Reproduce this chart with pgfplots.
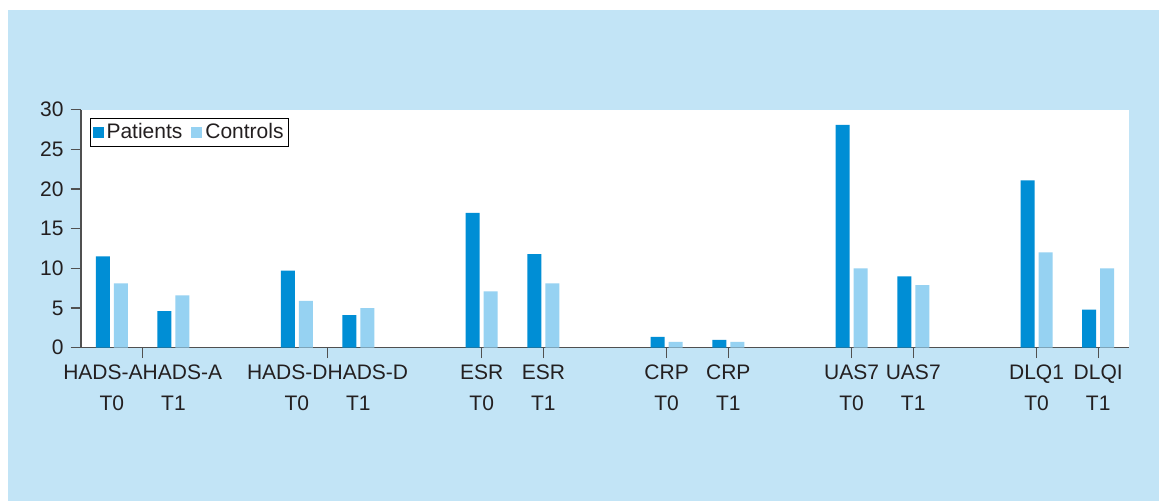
\documentclass[border=0pt]{standalone}
\usepackage{pgfplots}
\pgfplotsset{compat=1.18}
\usepackage{fontspec}
\setmainfont{Liberation Sans}
\definecolor{bgblue}{RGB}{194,228,246}
\definecolor{patc}{RGB}{0,142,213}
\definecolor{conc}{RGB}{150,210,242}
\definecolor{axc}{RGB}{80,80,80}
\definecolor{txt}{RGB}{35,31,32}
\newcommand{\Lf}[1]{\makebox[0pt]{\makebox[30.8pt][r]{#1}}}
\newcommand{\Rt}[1]{\makebox[0pt]{\makebox[30.8pt][l]{#1}}}
\begin{document}
\begin{tikzpicture}
\useasboundingbox (0,0) rectangle (579.5pt,250.5pt);
\fill[white] (0,0) rectangle (579.5pt,250.5pt);
\fill[bgblue] (4pt,0) rectangle (579.5pt,245.5pt);
\begin{axis}[
  at={(40.5pt,76.65pt)}, anchor=south west,
  scale only axis, width=524pt, height=119pt,
  xmin=-0.5, xmax=16.5, ymin=0, ymax=30,
  axis background/.style={fill=white},
  axis x line*=bottom, axis y line*=left,
  axis line style={draw=axc, line width=0.65pt},
  tick align=outside, major tick length=5.2pt,
  tick style={draw=axc, line width=0.65pt},
  ytick={0,5,10,15,20,25,30},
  /pgf/number format/assume math mode=true,
  tick label style={font=\fontsize{10.5}{15.5}\selectfont, text=txt},
  xtick={0.5,3.5,6,7,9,10,12,13,15,16},
  xticklabels={},
  extra x ticks={0,1,3,4,6,7,9,10,12,13,15,16},
  extra x tick labels={{\Lf{HADS-A}\\T0},{\Rt{HADS-A}\\T1},{\Lf{HADS-D}\\T0},{\Rt{HADS-D}\\T1},{ESR\\T0},{ESR\\T1},{CRP\\T0},{CRP\\T1},{UAS7\\T0},{UAS7\\T1},{DLQ1\\T0},{DLQI\\T1}},
  extra x tick style={tick style={draw=none}, tick label style={align=center}},
  legend columns=2,
  legend style={at={(0,1)}, anchor=north west, xshift=4.5pt, yshift=-4.2pt,
    draw=black, line width=0.5pt, font=\fontsize{10.5}{12}\selectfont, text=txt,
    inner xsep=1pt, inner ysep=1pt,
    nodes={inner xsep=1.5pt, inner ysep=1.5pt},
    /tikz/every even column/.append style={column sep=3pt}},
  legend image code/.code={\fill[#1] (0pt,-2.75pt) rectangle (5.5pt,2.75pt);},
]
\addplot[ybar, bar width=0.227, bar shift=-0.146, fill=patc, draw=none] coordinates {
 (0,11.5) (1,4.6) (3,9.7) (4,4.1) (6,17.0) (7,11.8) (9,1.35) (10,0.97) (12,28.1) (13,9.0) (15,21.1) (16,4.8)};
\addlegendentry{Patients}
\addplot[ybar, bar width=0.227, bar shift=0.146, fill=conc, draw=none] coordinates {
 (0,8.1) (1,6.6) (3,5.9) (4,5.0) (6,7.1) (7,8.1) (9,0.72) (10,0.72) (12,10.0) (13,7.9) (15,12.0) (16,10.0)};
\addlegendentry{Controls}
\end{axis}
\end{tikzpicture}
\end{document}
